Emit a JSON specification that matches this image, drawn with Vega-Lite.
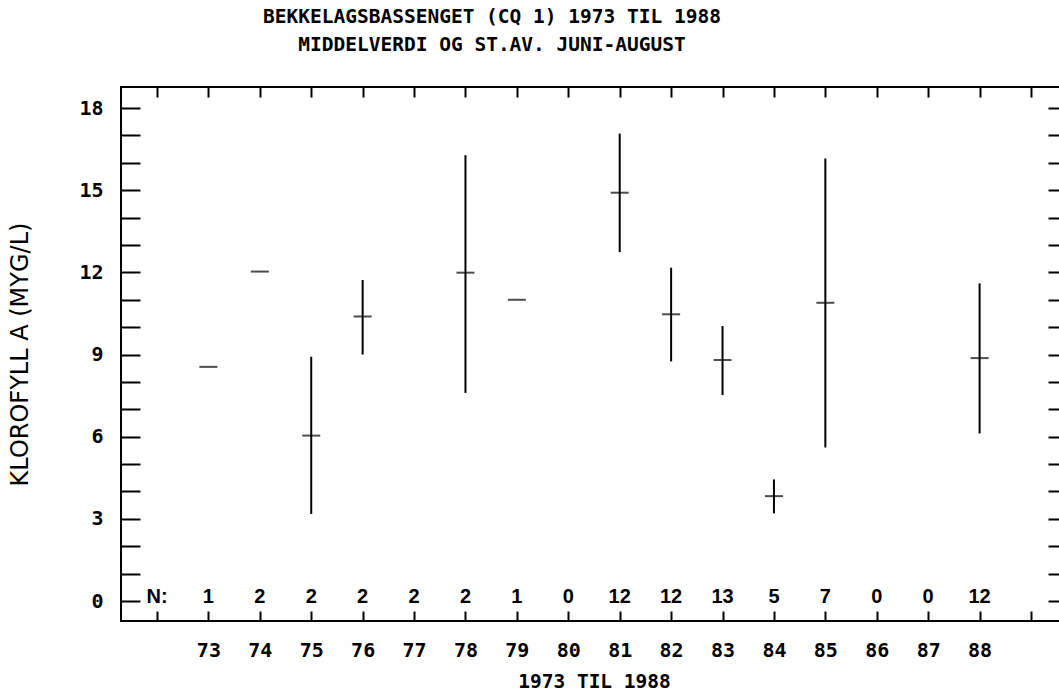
{
  "$schema": "https://vega.github.io/schema/vega-lite/v6.json",
  "width": 946,
  "height": 534,
  "autosize": {"type": "none"},
  "padding": {"left": 121, "top": 87, "right": 0, "bottom": 73},
  "background": "white",
  "config": {"view": {"stroke": "black", "strokeWidth": 2}},
  "title": {
    "text": ["BEKKELAGSBASSENGET (CQ 1) 1973 TIL 1988", "MIDDELVERDI OG ST.AV. JUNI-AUGUST"],
    "anchor": "middle",
    "frame": "group",
    "dx": -102,
    "offset": 31,
    "font": "DejaVu Sans Mono",
    "fontSize": 19.5,
    "fontWeight": "bold",
    "lineHeight": 28,
    "color": "black"
  },
  "datasets": {
    "stats": [
      {"year": 73, "mean": 8.55, "lo": null, "hi": null},
      {"year": 74, "mean": 12.03, "lo": null, "hi": null},
      {"year": 75, "mean": 6.04, "lo": 3.18, "hi": 8.92},
      {"year": 76, "mean": 10.39, "lo": 9.0, "hi": 11.72},
      {"year": 78, "mean": 11.99, "lo": 7.6, "hi": 16.28},
      {"year": 79, "mean": 11.0, "lo": null, "hi": null},
      {"year": 81, "mean": 14.91, "lo": 12.74, "hi": 17.07},
      {"year": 82, "mean": 10.47, "lo": 8.75, "hi": 12.17},
      {"year": 83, "mean": 8.8, "lo": 7.52, "hi": 10.04},
      {"year": 84, "mean": 3.83, "lo": 3.2, "hi": 4.44},
      {"year": 85, "mean": 10.89, "lo": 5.61, "hi": 16.16},
      {"year": 88, "mean": 8.87, "lo": 6.12, "hi": 11.6}
    ],
    "counts": [
      {"year": 72, "label": "N:"},
      {"year": 73, "label": "1"},
      {"year": 74, "label": "2"},
      {"year": 75, "label": "2"},
      {"year": 76, "label": "2"},
      {"year": 77, "label": "2"},
      {"year": 78, "label": "2"},
      {"year": 79, "label": "1"},
      {"year": 80, "label": "0"},
      {"year": 81, "label": "12"},
      {"year": 82, "label": "12"},
      {"year": 83, "label": "13"},
      {"year": 84, "label": "5"},
      {"year": 85, "label": "7"},
      {"year": 86, "label": "0"},
      {"year": 87, "label": "0"},
      {"year": 88, "label": "12"}
    ]
  },
  "resolve": {
    "scale": {"x": "shared", "y": "shared"},
    "axis": {"x": "independent", "y": "independent"}
  },
  "layer": [
    {
      "data": {"name": "stats"},
      "transform": [{"filter": "datum.lo != null"}],
      "mark": {"type": "rule", "color": "black", "strokeWidth": 2},
      "encoding": {
        "x": {
          "field": "year", "type": "quantitative",
          "scale": {"domain": [71.3, 89.7], "nice": false, "zero": false},
          "axis": {
            "orient": "bottom",
            "values": [72, 73, 74, 75, 76, 77, 78, 79, 80, 81, 82, 83, 84, 85, 86, 87, 88, 89],
            "labelExpr": "datum.value >= 73 && datum.value <= 88 ? datum.label : ''",
            "domain": false, "grid": false,
            "tickSize": -10, "tickWidth": 2, "tickColor": "black",
            "labelPadding": 29, "labelFont": "DejaVu Sans Mono", "labelFontWeight": "bold",
            "labelFontSize": 20, "labelColor": "black", "labelFlush": false, "labelOverlap": false,
            "title": "1973 TIL 1988",
            "titleFont": "DejaVu Sans Mono", "titleFontWeight": "bold", "titleFontSize": 19.5,
            "titleColor": "black", "titleX": 473, "titleY": 60, "titleBaseline": "middle", "titleAlign": "center"
          }
        },
        "y": {
          "field": "lo", "type": "quantitative",
          "scale": {"domain": [-0.73, 18.77], "nice": false, "zero": false},
          "axis": {
            "orient": "left",
            "values": [0, 1, 2, 3, 4, 5, 6, 7, 8, 9, 10, 11, 12, 13, 14, 15, 16, 17, 18],
            "labelExpr": "datum.value % 3 === 0 ? datum.label : ''",
            "domain": false, "grid": false,
            "tickSize": -19, "tickWidth": 2, "tickColor": "black",
            "encode": {"ticks": {"update": {"x2": {"signal": "datum.value % 3 === 0 ? 19 : 9"}}}},
            "labelPadding": 37, "labelFont": "DejaVu Sans Mono", "labelFontWeight": "bold",
            "labelFontSize": 20, "labelColor": "black", "labelFlush": false, "labelOverlap": false,
            "labelBaseline": "middle",
            "title": "KLOROFYLL A (MYG/L)",
            "titleFont": "DejaVu Sans", "titleFontWeight": "normal", "titleFontSize": 24,
            "titleColor": "black", "titleX": -101, "titleY": 267, "titleAngle": -90,
            "titleBaseline": "middle", "titleAlign": "center"
          }
        },
        "y2": {"field": "hi"}
      }
    },
    {
      "data": {"name": "stats"},
      "mark": {"type": "tick", "orient": "horizontal", "color": "black", "size": 18, "thickness": 2},
      "encoding": {
        "x": {
          "field": "year", "type": "quantitative",
          "scale": {"domain": [71.3, 89.7], "nice": false, "zero": false},
          "axis": {
            "orient": "top",
            "values": [72, 73, 74, 75, 76, 77, 78, 79, 80, 81, 82, 83, 84, 85, 86, 87, 88, 89],
            "labels": false, "domain": false, "grid": false, "title": null,
            "tickSize": -10, "tickWidth": 2, "tickColor": "black"
          }
        },
        "y": {
          "field": "mean", "type": "quantitative",
          "scale": {"domain": [-0.73, 18.77], "nice": false, "zero": false},
          "axis": {
            "orient": "right",
            "values": [0, 1, 2, 3, 4, 5, 6, 7, 8, 9, 10, 11, 12, 13, 14, 15, 16, 17, 18],
            "labels": false, "domain": false, "grid": false, "title": null,
            "tickSize": -19, "tickWidth": 2, "tickColor": "black",
            "encode": {"ticks": {"update": {"x2": {"signal": "datum.value % 3 === 0 ? -19 : -9"}}}}
          }
        }
      }
    },
    {
      "data": {"name": "counts"},
      "mark": {"type": "text", "font": "Liberation Sans", "fontWeight": "bold", "fontSize": 20, "color": "black", "baseline": "middle", "align": "center"},
      "encoding": {
        "x": {"field": "year", "type": "quantitative", "axis": null},
        "y": {"datum": 0.15, "type": "quantitative", "axis": null},
        "text": {"field": "label"}
      }
    }
  ]
}
